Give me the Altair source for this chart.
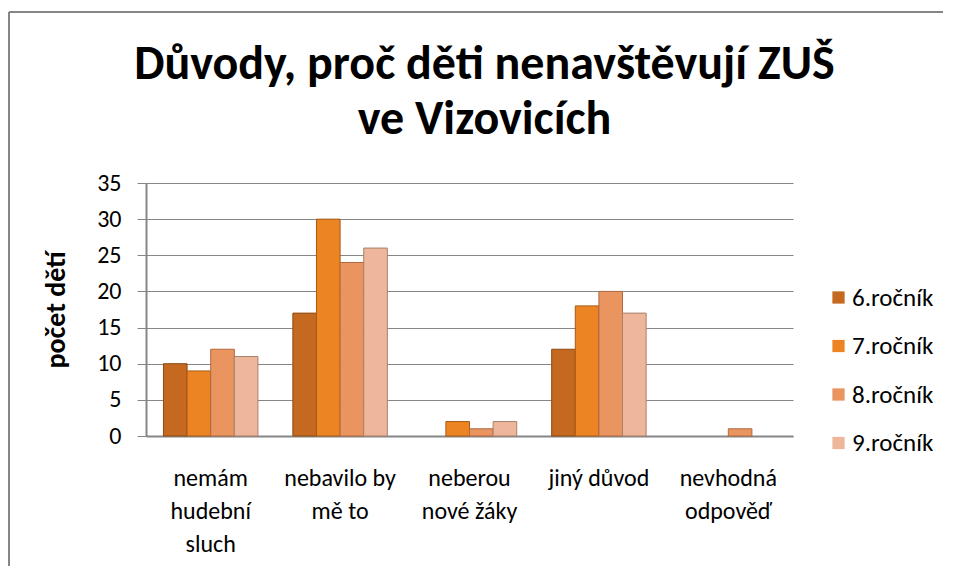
import altair as alt
import pandas as pd

categories = [
    "nemám\nhudební\nsluch",
    "nebavilo by\nmě to",
    "neberou\nnové žáky",
    "jiný důvod",
    "nevhodná\nodpověď",
]
grades = ["6.ročník", "7.ročník", "8.ročník", "9.ročník"]
values_6 = [10, 17, 0, 12, 0]
values_7 = [9, 30, 2, 18, 0]
values_8 = [12, 24, 1, 20, 1]
values_9 = [11, 26, 2, 17, 0]

fill_colors = ["#C4691F", "#EC8424", "#EA9460", "#EEB69A"]
edge_colors = ["#8E4A12", "#A85A14", "#B06A40", "#A8806C"]

rows = []
for g, vals in zip(grades, [values_6, values_7, values_8, values_9]):
    for c, v in zip(categories, vals):
        rows.append({"category": c, "grade": g, "value": v})
df = pd.DataFrame(rows)

FONT = "Carlito, Lato, Open Sans, sans-serif"
TITLE_FONT = "Carlito, Lato, sans-serif"

bars = alt.Chart(df).transform_filter("datum.value > 0").mark_bar(strokeWidth=1).encode(
    x=alt.X(
        "category:N",
        sort=categories,
        title=None,
        scale=alt.Scale(domain=categories, paddingInner=0.27, paddingOuter=0.135),
        axis=alt.Axis(
            labelExpr="split(datum.label, '\\n')",
            labelAngle=0,
            labelFont=FONT,
            labelFontSize=24,
            labelColor="#000000",
            labelLineHeight=33,
            labelPadding=30,
            ticks=False,
            domainColor="#868686",
            domainWidth=2,
            grid=False,
        ),
    ),
    xOffset=alt.XOffset(
        "grade:N", sort=grades, scale=alt.Scale(domain=grades, paddingInner=0, paddingOuter=0)
    ),
    y=alt.Y(
        "value:Q",
        title="počet dětí",
        scale=alt.Scale(domain=[0, 35], nice=False),
        axis=alt.Axis(
            values=[0, 5, 10, 15, 20, 25, 30, 35],
            labelFont=FONT,
            labelFontSize=24,
            labelColor="#000000",
            labelPadding=16,
            tickSize=9,
            tickColor="#868686",
            domainColor="#868686",
            domainWidth=2,
            gridColor="#868686",
            gridWidth=1,
            titleFont=FONT,
            titleFontSize=28,
            titleFontWeight="bold",
            titleColor="#000000",
            titlePadding=26,
        ),
    ),
    color=alt.Color(
        "grade:N",
        sort=grades,
        scale=alt.Scale(domain=grades, range=fill_colors),
        legend=alt.Legend(
            title=None,
            orient="none",
            legendX=680,
            legendY=102,
            symbolType="square",
            symbolSize=150,
            symbolStrokeWidth=0,
            labelFont=FONT,
            labelFontSize=25,
            labelColor="#000000",
            rowPadding=22.5,
            labelOffset=1,
        ),
    ),
    stroke=alt.Stroke(
        "grade:N",
        sort=grades,
        scale=alt.Scale(domain=grades, range=edge_colors),
        legend=None,
    ),
)

frame_data = alt.Data(values=[{"k": 0}])
left_border = alt.Chart(frame_data).mark_rule(color="#868686", strokeWidth=2).encode(
    x=alt.value(-137), y=alt.value(-171), y2=alt.value(600)
)
top_border = alt.Chart(frame_data).mark_rule(color="#868686", strokeWidth=2).encode(
    x=alt.value(-137), x2=alt.value(1000), y=alt.value(-171)
)

chart = alt.layer(bars, left_border, top_border).properties(
    width=647,
    height=253,
    autosize=alt.AutoSizeParams(type="none"),
    padding={"left": 138, "top": 175, "right": 150, "bottom": 130},
    title=alt.TitleParams(
        text=["Důvody, proč děti nenavštěvují ZUŠ", "ve Vizovicích"],
        font=TITLE_FONT,
        fontSize=48,
        fontWeight="bold",
        color="#000000",
        lineHeight=55,
        anchor="middle",
        dx=15,
        dy=133,
        offset=0,
    ),
).configure_view(stroke=None)

chart.save("out.html", embed_options={"renderer": "svg", "actions": False})
